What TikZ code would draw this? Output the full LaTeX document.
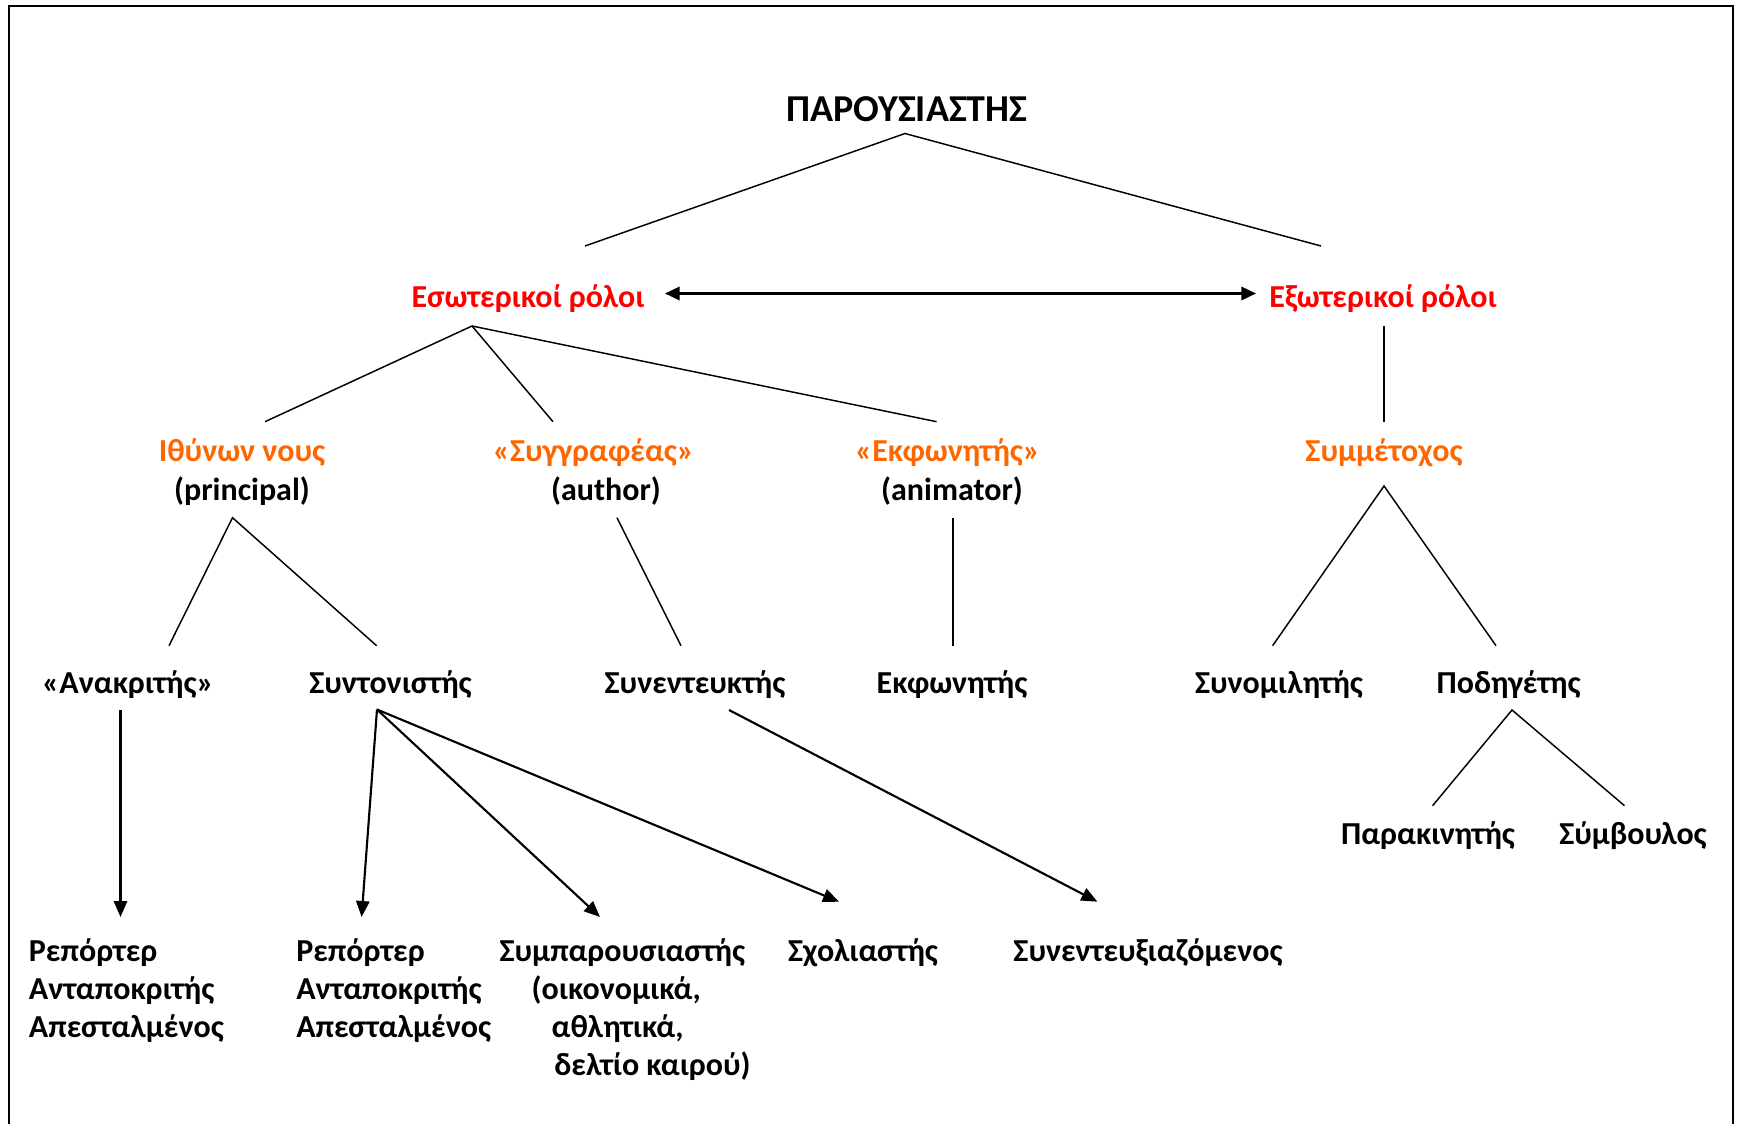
\documentclass[tikz,border=0pt]{standalone}
\usepackage{fontspec}
\setmainfont{Carlito}
\usetikzlibrary{arrows.meta}
\definecolor{rolered}{RGB}{255,0,0}
\definecolor{roleorange}{RGB}{255,102,0}
\begin{document}
\begin{tikzpicture}[x=0.75pt,y=-0.75pt,
  every node/.style={font=\bfseries\fontsize{24}{28.5}\selectfont, inner sep=0pt},
  lbl/.style={anchor=base},
  lblw/.style={anchor=base west, align=left},
  ln/.style={line width=1.1pt},
  arr/.style={line width=1.6pt,-{Triangle[length=12pt,width=10pt]}},
  darr/.style={line width=1.9pt,{Triangle[length=11pt,width=10pt]}-{Triangle[length=11pt,width=10pt]}},
]
\useasboundingbox (0,0) rectangle (1743,1124);
\draw[line width=1.5pt] (9,1124) -- (9,6) -- (1733,6) -- (1733,1124);

% nodes (multi-line nodes: base = baseline of last line)
\node[lbl, font=\bfseries\fontsize{28.5}{34}\selectfont] (pres) at (907,122) {ΠΑΡΟΥΣΙΑΣΤΗΣ};
\node[lbl, text=rolered] (int) at (528,307.5) {Εσωτερικοί ρόλοι};
\node[lbl, text=rolered] (ext) at (1383,307.5) {Εξωτερικοί ρόλοι};
\node[lbl, align=center, font=\bfseries\fontsize{24}{29}\selectfont] (princ) at (242,500.5) {\textcolor{roleorange}{Ιθύνων νους}\\(principal)};
\node[lbl, align=center, font=\bfseries\fontsize{24}{29}\selectfont] (auth) at (593.5,500.5) {\textcolor{roleorange}{«Συγγραφέας»}\\\hspace*{18.75pt}(author)};
\node[lbl, align=center, font=\bfseries\fontsize{24}{29}\selectfont] (anim) at (947.6,500.5) {\textcolor{roleorange}{«Εκφωνητής»}\\\hspace*{6.6pt}(animator)};
\node[lbl, text=roleorange] (symm) at (1384,461.5) {Συμμέτοχος};
\node[lbl] (anakr) at (128,693.5) {«Ανακριτής»};
\node[lbl] (synton) at (390.5,693.5) {Συντονιστής};
\node[lbl] (synent) at (695,693.5) {Συνεντευκτής};
\node[lbl] (ekfon) at (952,693.5) {Εκφωνητής};
\node[lbl] (synom) at (1279,693.5) {Συνομιλητής};
\node[lbl] (podig) at (1508.6,693.5) {Ποδηγέτης};
\node[lbl] (parak) at (1428,844.5) {Παρακινητής};
\node[lbl] (symv) at (1633,844.5) {Σύμβουλος};
\node[lblw] (rep1) at (28.7,1037.5) {Ρεπόρτερ\\Ανταποκριτής\\Απεσταλμένος};
\node[lblw] (rep2) at (296,1037.5) {Ρεπόρτερ\\Ανταποκριτής\\Απεσταλμένος};
\node[lblw] (sympar) at (499.4,1075.5) {Συμπαρουσιαστής\\\hspace*{24pt}(οικονομικά,\\\hspace*{39pt}αθλητικά,\\\hspace*{41pt}δελτίο καιρού)};
\node[lbl] (sxol) at (863,961.5) {Σχολιαστής};
\node[lbl] (synentx) at (1148,961.5) {Συνεντευξιαζόμενος};

% connector end points
\coordinate (pres-s) at (905,133.5);
\coordinate (int-n) at (585,246);
\coordinate (ext-n) at (1321,246);
\coordinate (int-e) at (665,293.5);
\coordinate (ext-w) at (1256,293.5);
\coordinate (int-s) at (472,326);
\coordinate (ext-s) at (1384,326);
\coordinate (princ-n) at (265,421.7);
\coordinate (auth-n) at (553,421.7);
\coordinate (anim-n) at (936.6,421.7);
\coordinate (symm-n) at (1384,421.7);
\coordinate (princ-s) at (232.5,517.7);
\coordinate (auth-s) at (617,517.7);
\coordinate (anim-s) at (953,518.3);
\coordinate (symm-s) at (1384,486);
\coordinate (anakr-n) at (169,645.7);
\coordinate (synton-n) at (376.6,645.7);
\coordinate (synent-n) at (681,645.7);
\coordinate (ekfon-n) at (953,645.7);
\coordinate (synom-n) at (1272.6,645.7);
\coordinate (podig-n) at (1496,645.7);
\coordinate (anakr-s) at (120.5,710);
\coordinate (synton-s) at (377,709.5);
\coordinate (synent-s) at (729,710);
\coordinate (podig-s) at (1512,710);
\coordinate (parak-n) at (1432.6,805.7);
\coordinate (symv-n) at (1624.5,805.7);
\coordinate (rep1-n) at (120.5,917);
\coordinate (rep2-n) at (361.6,917);
\coordinate (sympar-n) at (600,917);
\coordinate (sxol-n) at (839,901.7);
\coordinate (synentx-n) at (1097.4,901.7);

% connectors
\draw[ln] (int-n) -- (pres-s) -- (ext-n);
\draw[darr] (int-e) -- (ext-w);
\draw[ln] (princ-n) -- (int-s) -- (auth-n);
\draw[ln] (int-s) -- (anim-n);
\draw[ln] (ext-s) -- (symm-n);
\draw[ln] (anakr-n) -- (princ-s) -- (synton-n);
\draw[ln] (auth-s) -- (synent-n);
\draw[ln] (anim-s) -- (ekfon-n);
\draw[ln] (synom-n) -- (symm-s) -- (podig-n);
\draw[ln] (parak-n) -- (podig-s) -- (symv-n);
\draw[arr] (anakr-s) -- (rep1-n);
\draw[arr] (synton-s) -- (rep2-n);
\draw[arr] (synton-s) -- (sympar-n);
\draw[arr] (synton-s) -- (sxol-n);
\draw[arr] (synent-s) -- (synentx-n);
\end{tikzpicture}
\end{document}
